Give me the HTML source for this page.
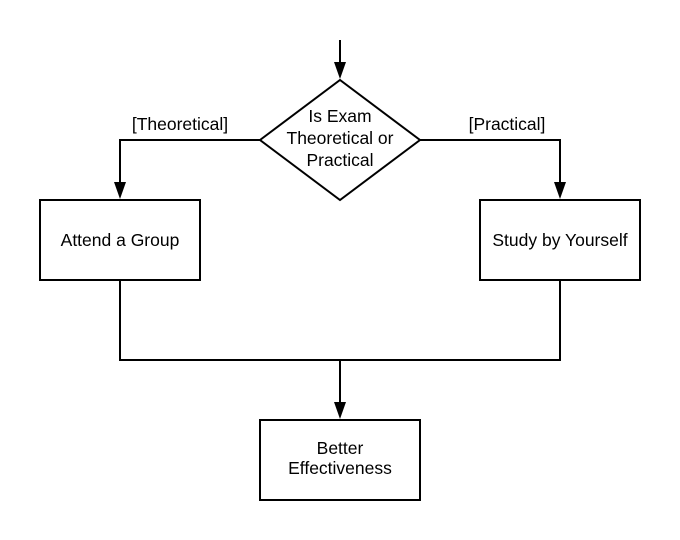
<!DOCTYPE html>
<html><head><meta charset="utf-8"><style>
html,body{margin:0;padding:0;background:#fff;}
svg{display:block;}
text{font-family:"Liberation Sans",Arial,sans-serif;font-size:17.5px;fill:#000;}
</style></head><body>
<svg width="680" height="540" viewBox="0 0 680 540" xmlns="http://www.w3.org/2000/svg">
<g fill="none" stroke="#000" stroke-width="2">
<line x1="340" y1="40" x2="340" y2="64"/>
<polygon points="260,140 340,80 420,140 340,200"/>
<polyline points="260,140 120,140 120,184"/>
<polyline points="420,140 560,140 560,184"/>
<rect x="40" y="200" width="160" height="80"/>
<rect x="480" y="200" width="160" height="80"/>
<polyline points="120,280 120,360 560,360 560,280"/>
<line x1="340" y1="360" x2="340" y2="404"/>
<rect x="260" y="420" width="160" height="80"/>
</g>
<g fill="#000">
<polygon points="334,62 346,62 340,79"/>
<polygon points="114,182 126,182 120,199"/>
<polygon points="554,182 566,182 560,199"/>
<polygon points="334,402 346,402 340,419"/>
</g>
<g text-anchor="middle">
<text x="340" y="122">Is Exam</text>
<text x="340" y="144">Theoretical or</text>
<text x="340" y="166">Practical</text>
<text x="180" y="130">[Theoretical]</text>
<text x="507" y="130">[Practical]</text>
<text x="120" y="246">Attend a Group</text>
<text x="560" y="246">Study by Yourself</text>
<text x="340" y="454">Better</text>
<text x="340" y="474">Effectiveness</text>
</g>
</svg>
</body></html>
